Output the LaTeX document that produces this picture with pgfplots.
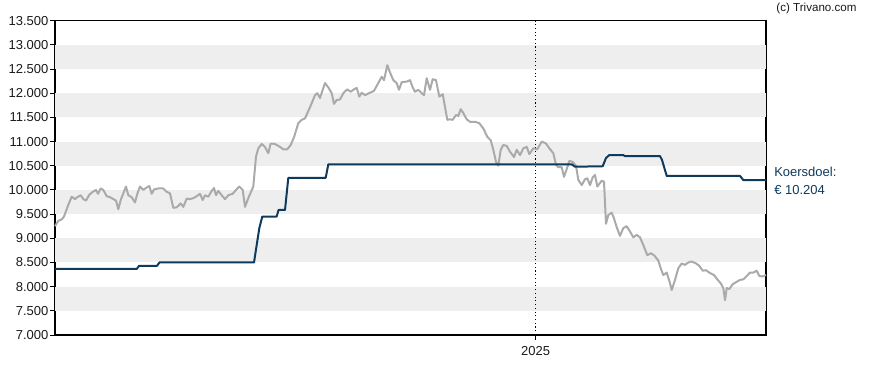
\documentclass[border=0pt]{standalone}
\usepackage{pgfplots}
\pgfplotsset{compat=1.18}
\usepackage{fontspec}
\setmainfont{Liberation Sans}
\definecolor{band}{HTML}{EEEEEE}
\definecolor{price}{HTML}{AAAAAA}
\definecolor{target}{HTML}{0E3A5C}
\definecolor{ticktxt}{HTML}{1A1A1A}
\begin{document}
\begin{tikzpicture}
\path (-41.25pt,-26.25pt) rectangle (624.75pt,251.25pt);
\begin{axis}[
  scale only axis,
  width=533.25pt, height=235.73pt,
  xmin=55, xmax=766, ymin=7, ymax=13.5,
  axis line style={black, line width=0.8pt},
  ytick={7,7.5,...,13.5},
  xtick={535.7}, xticklabels={2025},
  ytick pos=left, xtick pos=bottom,
  tick align=outside,
  major tick length=3.75pt,
  tick style={black, line width=0.7pt},
  yticklabel style={/pgf/number format/fixed, /pgf/number format/zerofill, /pgf/number format/precision=3, font=\fontsize{9.75}{11}\selectfont, text=ticktxt, inner sep=1pt},
  xticklabel style={font=\fontsize{9.75}{11}\selectfont, text=ticktxt, yshift=-1pt},
  /pgf/number format/assume math mode=true,
  clip=false,
  axis on top=false,
]
\fill[band] (axis cs:55,12.5) rectangle (axis cs:766,13);
\fill[band] (axis cs:55,11.5) rectangle (axis cs:766,12);
\fill[band] (axis cs:55,10.5) rectangle (axis cs:766,11);
\fill[band] (axis cs:55,9.5) rectangle (axis cs:766,10);
\fill[band] (axis cs:55,8.5) rectangle (axis cs:766,9);
\fill[band] (axis cs:55,7.5) rectangle (axis cs:766,8);
\draw[black, dotted, line width=0.8pt] (axis cs:535.7,7) -- (axis cs:535.7,13.5);
\addplot[price, line width=1.5pt, line join=round] coordinates {
(55,9.25) (58.3,9.36) (61.7,9.39) (64,9.45) (68.3,9.69) (71.7,9.86) (75,9.81) (77.3,9.85) (80.7,9.89) (83.3,9.81) (86,9.78) (89.3,9.90) (92.7,9.96) (96,10.0) (98,9.92) (100.7,10.03) (103.3,10.0) (106.7,9.87) (110,9.85) (113.3,9.81) (116,9.78) (118.3,9.60) (120.7,9.79) (123.3,9.93) (126,10.07) (128.3,9.89) (131.7,9.85) (135,9.74) (137.3,9.92) (140,10.07) (143.3,10.0) (146.7,10.05) (149.3,10.08) (151.7,9.92) (154,10.01) (158.3,10.03) (163.3,10.03) (166.7,9.96) (170,9.93) (173.3,9.63) (176.7,9.64) (180.7,9.72) (183.3,9.65) (186.7,9.82) (190,9.81) (193.3,9.83) (196.7,9.87) (200,9.92) (202.7,9.79) (205,9.89) (208.3,9.86) (211.7,9.98) (214,10.04) (216,9.89) (218.3,9.98) (221.7,9.89) (225,9.81) (228.3,9.89) (232.7,9.92) (236,10.0) (239.3,10.07) (242.7,10.0) (245,9.65) (248.3,9.83) (253.3,10.07) (256,10.69) (258.3,10.86) (261.7,10.95) (265,10.89) (268.3,10.76) (270.7,10.96) (275,10.95) (280,10.89) (283.3,10.84) (287.3,10.84) (290.7,10.93) (294,11.09) (298.3,11.38) (301.7,11.45) (305,11.48) (310,11.71) (315,11.96) (317.3,12.0) (320,11.90) (325,12.21) (328.3,12.12) (331.7,12.0) (334,11.78) (336.7,11.86) (340,11.87) (343.3,12.0) (347.3,12.08) (350.7,12.03) (354,12.08) (356.7,12.11) (359.3,11.93) (361.7,12.01) (365,11.96) (370,12.01) (374,12.05) (378.3,12.21) (381.7,12.34) (384,12.27) (387.3,12.58) (390,12.43) (393.3,12.27) (396.7,12.21) (399,12.07) (401.7,12.23) (406.7,12.24) (410,12.27) (412.7,12.12) (415,12.03) (418.3,12.07) (421.7,12.0) (424,11.96) (426.7,12.31) (430,12.07) (432.7,12.29) (436,12.27) (439.3,11.93) (442.7,11.98) (447.3,11.45) (450,11.46) (452.7,11.45) (456,11.55) (458.3,11.53) (460.7,11.67) (463.3,11.59) (466.7,11.46) (470,11.41) (475,11.41) (479.3,11.38) (483.3,11.27) (487.3,11.10) (490.7,11.03) (493.3,10.83) (496,10.58) (498.3,10.50) (500.7,10.83) (503.3,10.93) (506.7,10.91) (510,10.79) (514,10.68) (516.7,10.83) (520,10.72) (523.3,10.86) (526.7,10.89) (529.3,10.74) (533.3,10.86) (537.3,10.84) (541.7,11.0) (546,10.96) (549.3,10.86) (553.3,10.76) (556,10.52) (558.3,10.47) (561.7,10.47) (564,10.27) (566.7,10.43) (569.3,10.60) (572.7,10.58) (576,10.50) (578.3,10.21) (581.7,10.10) (585,10.22) (587.3,10.24) (590,10.10) (592.7,10.26) (595,10.31) (597.3,10.07) (601.7,10.19) (604,10.17) (606,9.30) (608.3,9.48) (611.7,9.53) (614,9.41) (616.7,9.23) (620,9.05) (623.3,9.21) (626.7,9.25) (630,9.14) (633.3,9.02) (636.7,9.07) (640,9.02) (643.3,8.86) (647.3,8.65) (650.7,8.69) (654,8.65) (658.3,8.54) (660.7,8.38) (663.3,8.24) (666.7,8.29) (670,8.07) (671.7,7.93) (675,8.14) (678.3,8.38) (681.7,8.48) (685,8.45) (688.3,8.50) (691.7,8.52) (696,8.48) (699.3,8.43) (702.7,8.33) (706,8.34) (710,8.28) (714,8.24) (717.3,8.15) (720.7,8.07) (723.3,7.97) (725,7.72) (726.7,7.97) (729.3,7.95) (732.7,8.05) (736.7,8.10) (740,8.14) (743.3,8.15) (746.7,8.22) (750,8.29) (753.3,8.29) (756.7,8.33) (759.3,8.22) (762.7,8.21) (766,8.24)
};
\addplot[target, line width=1.5pt, line join=round] coordinates {
(55,8.37) (137,8.37) (139,8.43) (157,8.43) (159.5,8.50) (254,8.50) (259.3,9.21) (262.3,9.45) (276.7,9.45) (278.5,9.585) (285,9.585) (288.3,10.25) (325.7,10.25) (328.3,10.53) (571.7,10.53) (575,10.48) (602.7,10.49) (606,10.66) (609.3,10.72) (623.3,10.72) (625,10.70) (660,10.70) (662,10.62) (666.7,10.29) (740,10.29) (743.3,10.204) (766,10.204)
};
\node[anchor=west, text=target, font=\fontsize{9.75}{11}\selectfont, inner sep=0pt] at (axis cs:774,10.38) {Koersdoel:};
\node[anchor=west, text=target, font=\fontsize{9.75}{11}\selectfont, inner sep=0pt] at (axis cs:774,10.0) {€ 10.204};
\node[anchor=center, text=ticktxt, font=\fontsize{8.7}{10}\selectfont, inner sep=0pt] at (axis cs:816.5,13.75) {(c) Trivano.com};
\end{axis}
\end{tikzpicture}
\end{document}
